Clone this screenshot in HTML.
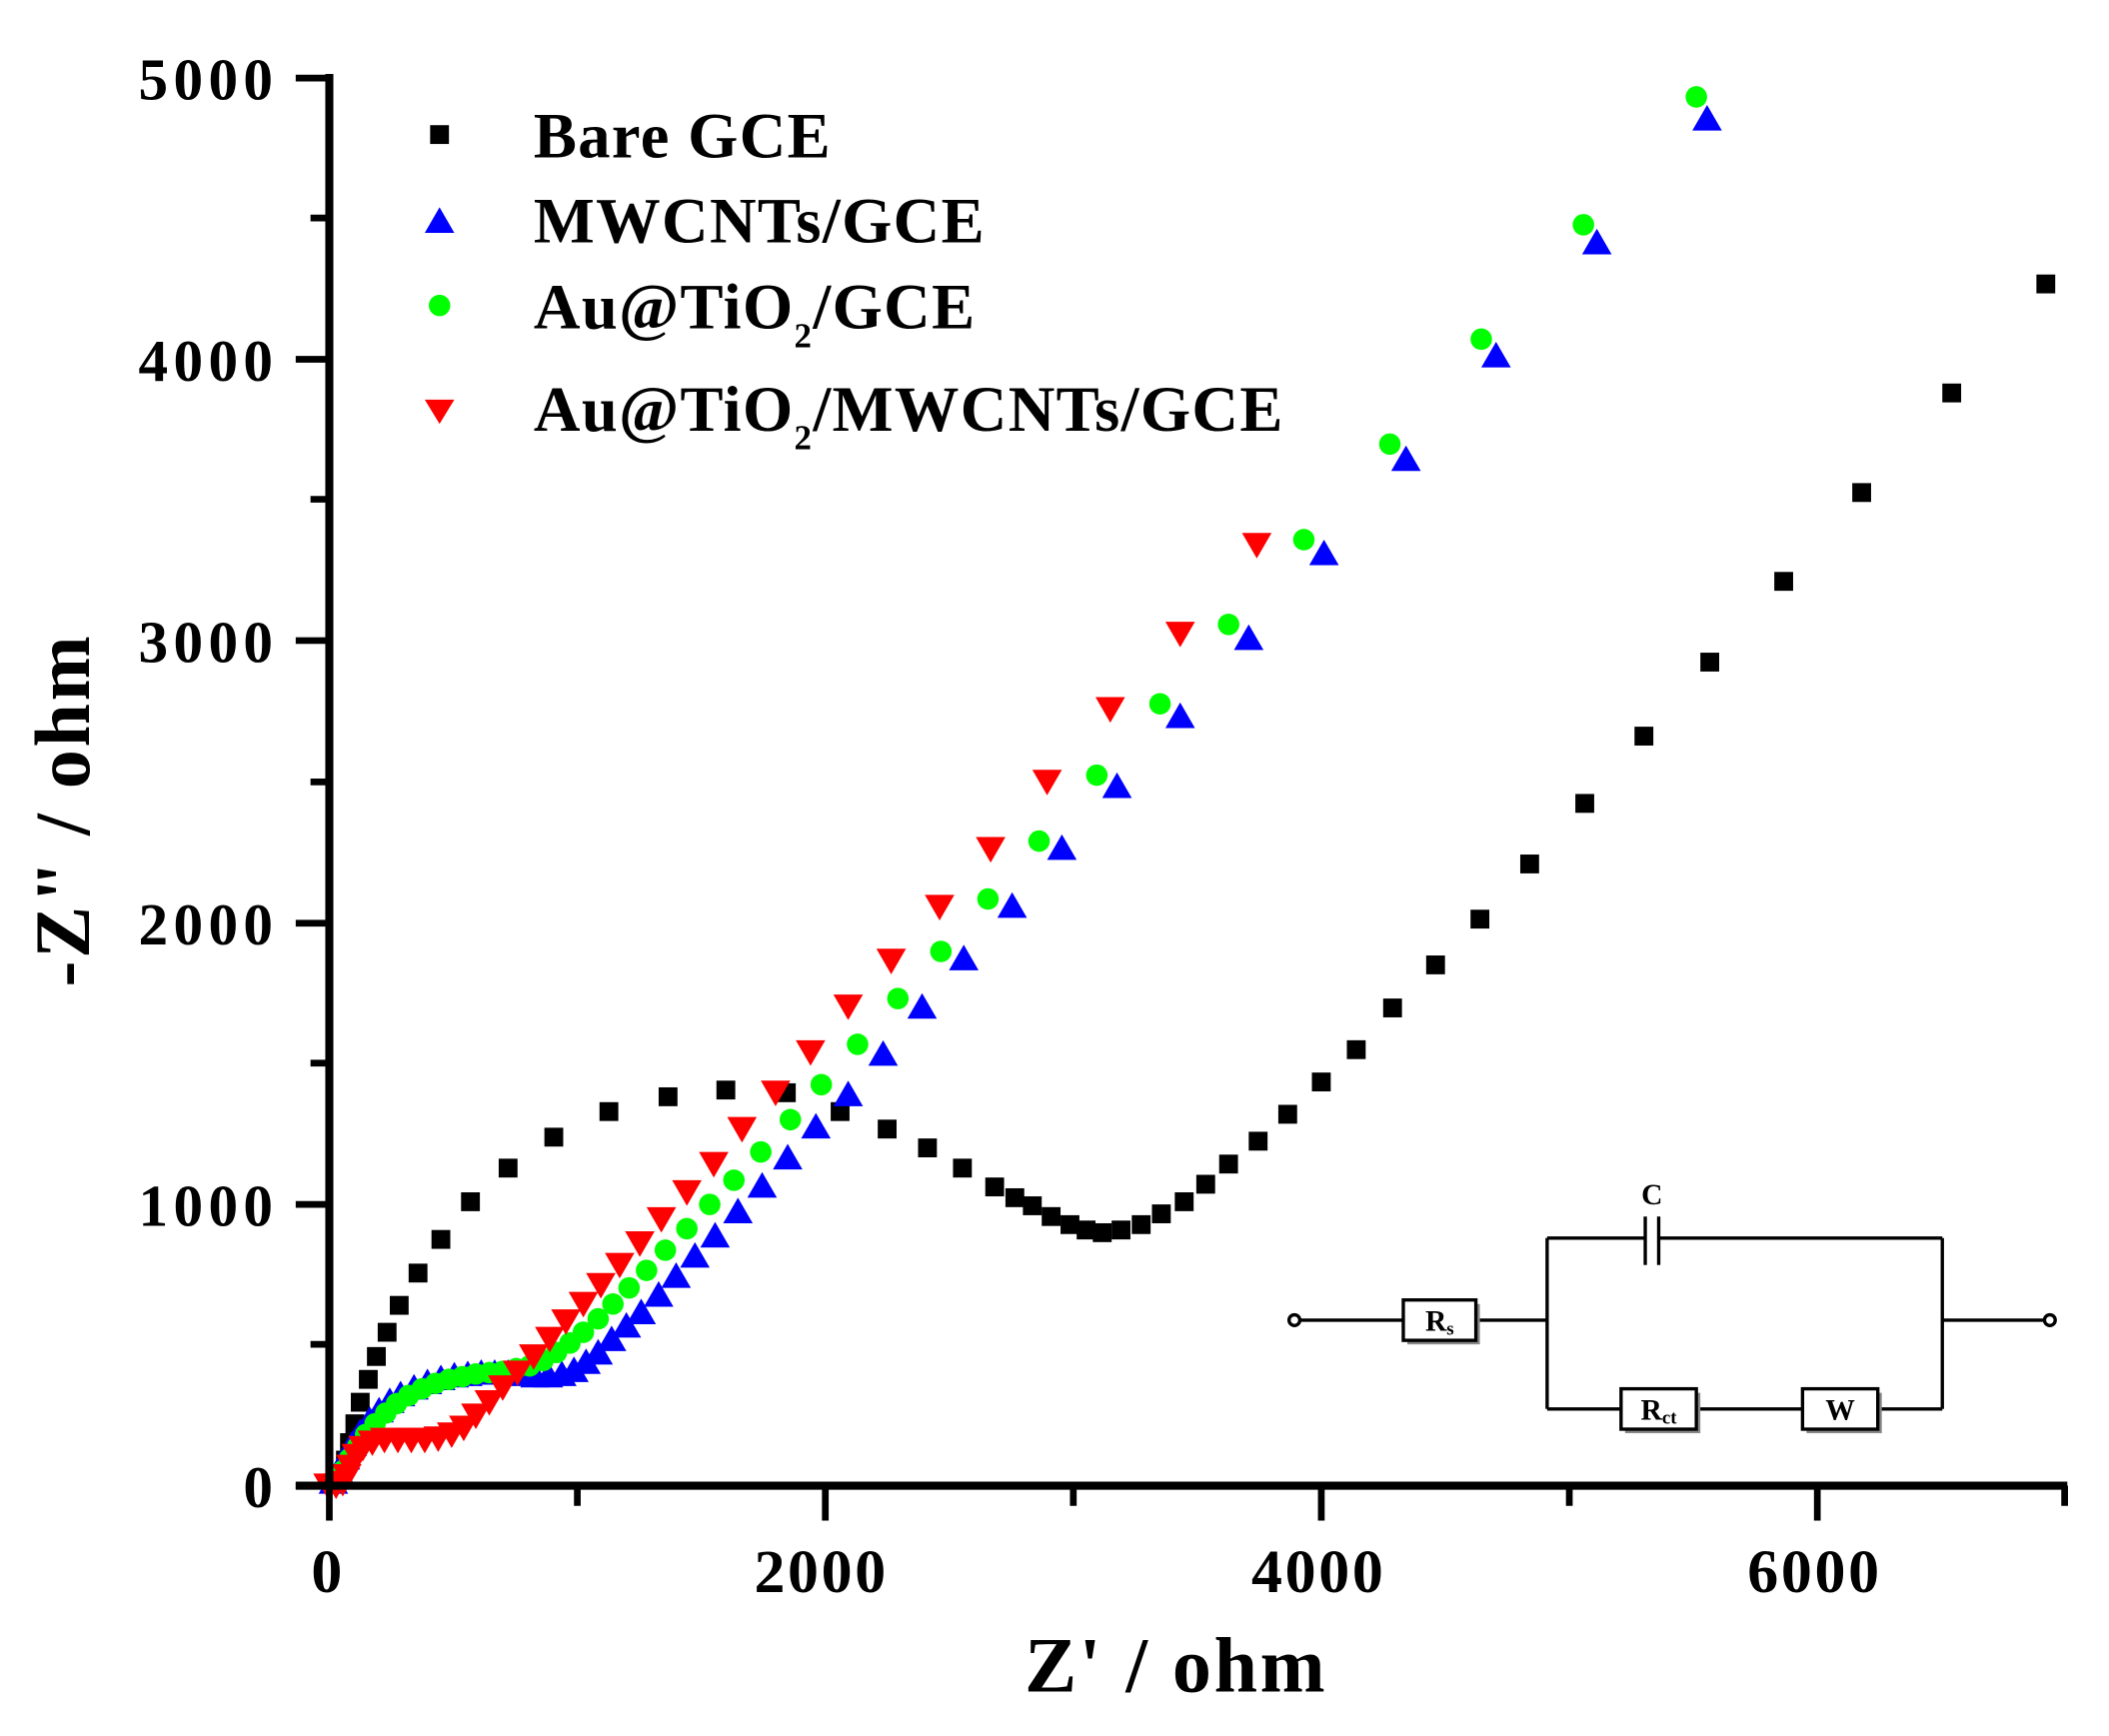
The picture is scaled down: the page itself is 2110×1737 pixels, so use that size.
<!DOCTYPE html>
<html><head><meta charset="utf-8"><style>
html,body{margin:0;padding:0;background:#fff;}
svg{display:block;}
text{font-family:"Liberation Serif",serif;font-weight:bold;}
</style></head><body>
<svg id="s" width="2110" height="1737" viewBox="0 0 1569 1290" preserveAspectRatio="none" xmlns="http://www.w3.org/2000/svg">
<g id="data"></g>
<g stroke="#000" stroke-width="6" fill="none">
<line x1="245" y1="55" x2="245" y2="1107"/>
<line x1="220" y1="1104" x2="1538" y2="1104"/>
<g stroke-width="5">
<line x1="220" y1="58" x2="245" y2="58"/><line x1="220" y1="267" x2="245" y2="267"/><line x1="220" y1="476" x2="245" y2="476"/><line x1="220" y1="686" x2="245" y2="686"/><line x1="220" y1="895" x2="245" y2="895"/><line x1="220" y1="1104" x2="245" y2="1104"/>
<line x1="231" y1="162" x2="245" y2="162"/><line x1="231" y1="371" x2="245" y2="371"/><line x1="231" y1="581" x2="245" y2="581"/><line x1="231" y1="790" x2="245" y2="790"/><line x1="231" y1="999" x2="245" y2="999"/>
<line x1="245" y1="1104" x2="245" y2="1130"/><line x1="614" y1="1104" x2="614" y2="1130"/><line x1="983" y1="1104" x2="983" y2="1130"/><line x1="1352" y1="1104" x2="1352" y2="1130"/>
<line x1="429.5" y1="1104" x2="429.5" y2="1119"/><line x1="798.5" y1="1104" x2="798.5" y2="1119"/><line x1="1167.5" y1="1104" x2="1167.5" y2="1119"/><line x1="1536" y1="1104" x2="1536" y2="1119"/>
</g></g>
<g font-size="44" text-anchor="end" letter-spacing="4">
<text x="207" y="74">5000</text><text x="207" y="283">4000</text><text x="207" y="492">3000</text><text x="207" y="702">2000</text><text x="207" y="911">1000</text><text x="207" y="1120">0</text>
</g>
<g font-size="46" text-anchor="middle" letter-spacing="2">
<text x="244" y="1183">0</text><text x="611" y="1183">2000</text><text x="981" y="1183">4000</text><text x="1350" y="1183">6000</text>
</g>
<text x="875" y="1257" font-size="58" text-anchor="middle" letter-spacing="2">Z' / ohm</text>
<text transform="translate(66,602) rotate(-90)" font-size="58" text-anchor="middle" letter-spacing="2">-Z" / ohm</text>
<rect x="320" y="93" width="14" height="14" fill="#000"/>
<polygon points="316,173 338,173 327,154" fill="#0000ff"/>
<circle cx="327" cy="227" r="8" fill="#00ff00"/>
<polygon points="316,297 338,297 327,315" fill="#ff0000"/>
<g font-size="48" letter-spacing="1">
<text x="397" y="117">Bare GCE</text>
<text x="397" y="180">MWCNTs/GCE</text>
<text x="397" y="244">Au@TiO<tspan font-size="26" dy="14">2</tspan><tspan dy="-14">/GCE</tspan></text>
<text x="397" y="320">Au@TiO<tspan font-size="26" dy="14">2</tspan><tspan dy="-14">/MWCNTs/GCE</tspan></text>
</g>
<g stroke="#000" stroke-width="2.5" fill="none">
<circle cx="963" cy="981" r="4" fill="#fff"/><circle cx="1525" cy="981" r="4" fill="#fff"/>
<line x1="967" y1="981" x2="1044" y2="981"/><line x1="1098" y1="981" x2="1151" y2="981"/>
<line x1="1151" y1="920" x2="1151" y2="1047"/><line x1="1445" y1="920" x2="1445" y2="1047"/>
<line x1="1445" y1="981" x2="1521" y2="981"/>
<line x1="1151" y1="920" x2="1224" y2="920"/><line x1="1234" y1="920" x2="1445" y2="920"/>
<line x1="1224" y1="904" x2="1224" y2="940"/><line x1="1234" y1="904" x2="1234" y2="940"/>
<line x1="1151" y1="1047" x2="1206" y2="1047"/><line x1="1262" y1="1047" x2="1341" y2="1047"/><line x1="1397" y1="1047" x2="1445" y2="1047"/>
</g>
<g fill="#888"><rect x="1047" y="969" width="54" height="30"/><rect x="1209" y="1035" width="56" height="30"/><rect x="1344" y="1035" width="56" height="30"/></g>
<g fill="#fff" stroke="#000" stroke-width="2.5"><rect x="1044" y="966" width="54" height="30"/><rect x="1206" y="1032" width="56" height="30"/><rect x="1341" y="1032" width="56" height="30"/></g>
<g font-size="22" text-anchor="middle">
<text x="1229" y="895">C</text>
<text x="1071" y="989">R<tspan font-size="14" dy="3">s</tspan></text>
<text x="1234" y="1055">R<tspan font-size="14" dy="3">ct</tspan></text>
<text x="1369" y="1055">W</text>
</g>
</svg>
<script>
var ns="http://www.w3.org/2000/svg",g=document.getElementById("data");
function add(tag,attrs){var e=document.createElementNS(ns,tag);for(var k in attrs)e.setAttribute(k,attrs[k]);g.appendChild(e);}
var black=[[1522,211],[1452,292],[1385,366],[1327,432],[1272,492],[1223,547],[1179,597],[1138,642],[1101,683],[1068,717],[1036,749],[1009,780],[983,804],[958,828],[936,848],[914,865],[897,880],[881,893],[864,902],[849,910],[834,914],[820,916],[808,914],[796,910],[782,904],[768,896],[755,890],[740,882],[716,868],[690,853],[660,839],[625,826],[585,812],[540,810],[497,815],[453,826],[412,845],[378,868],[350,893],[328,921],[311,946],[297,970],[288,990],[280,1008],[274,1025],[268,1042],[264,1058],[260,1072],[257,1085],[254,1095],[250,1102]];
var blue=[[1270,88],[1188,180],[1113,264],[1046,341],[985,411],[929,474],[878,532],[831,584],[790,630],[753,673],[717,712],[686,748],[657,783],[631,813],[607,837],[586,860],[567,881],[549,900],[532,918],[517,933],[503,948],[490,962],[477,975],[466,985],[455,995],[445,1005],[436,1012],[427,1018],[418,1021],[408,1022],[398,1022],[388,1021],[378,1020],[368,1020],[358,1020],[348,1021],[338,1022],[328,1024],[318,1027],[308,1031],[298,1036],[290,1041],[282,1048],[275,1055],[268,1064],[262,1073],[257,1083],[252,1093],[248,1101]];
var green=[[1262,72],[1178,167],[1102,252],[1034,330],[970,401],[914,464],[863,523],[816,576],[773,625],[735,668],[700,707],[668,742],[638,776],[611,806],[588,832],[566,856],[546,877],[528,895],[511,913],[495,929],[481,944],[468,957],[456,969],[445,980],[434,990],[424,998],[414,1005],[404,1011],[394,1015],[384,1017],[374,1019],[364,1020],[354,1021],[344,1023],[334,1025],[324,1028],[314,1032],[304,1037],[295,1043],[287,1050],[279,1058],[272,1066],[266,1075],[260,1084],[255,1093],[250,1101]];
var red=[[935,405],[878,471],[826,527],[779,581],[737,631],[699,674],[663,714],[631,748],[603,782],[577,812],[552,839],[531,865],[511,886],[492,906],[476,924],[461,940],[447,955],[434,969],[421,982],[409,995],[397,1008],[385,1020],[374,1031],[364,1042],[354,1052],[345,1061],[336,1066],[326,1069],[316,1070],[306,1070],[296,1070],[286,1070],[277,1072],[270,1076],[265,1082],[261,1090],[258,1097],[255,1102],[250,1104],[244,1104]];
black.forEach(function(p){add("rect",{x:p[0]-7,y:p[1]-7,width:14,height:14,fill:"#000"});});
blue.forEach(function(p){add("polygon",{points:(p[0]-11)+","+(p[1]+9)+" "+(p[0]+11)+","+(p[1]+9)+" "+p[0]+","+(p[1]-10),fill:"#0000ff"});});
green.forEach(function(p){add("circle",{cx:p[0],cy:p[1],r:8,fill:"#00ff00"});});
red.forEach(function(p){add("polygon",{points:(p[0]-11)+","+(p[1]-9)+" "+(p[0]+11)+","+(p[1]-9)+" "+p[0]+","+(p[1]+10),fill:"#ff0000"});});
</script>
</body></html>
